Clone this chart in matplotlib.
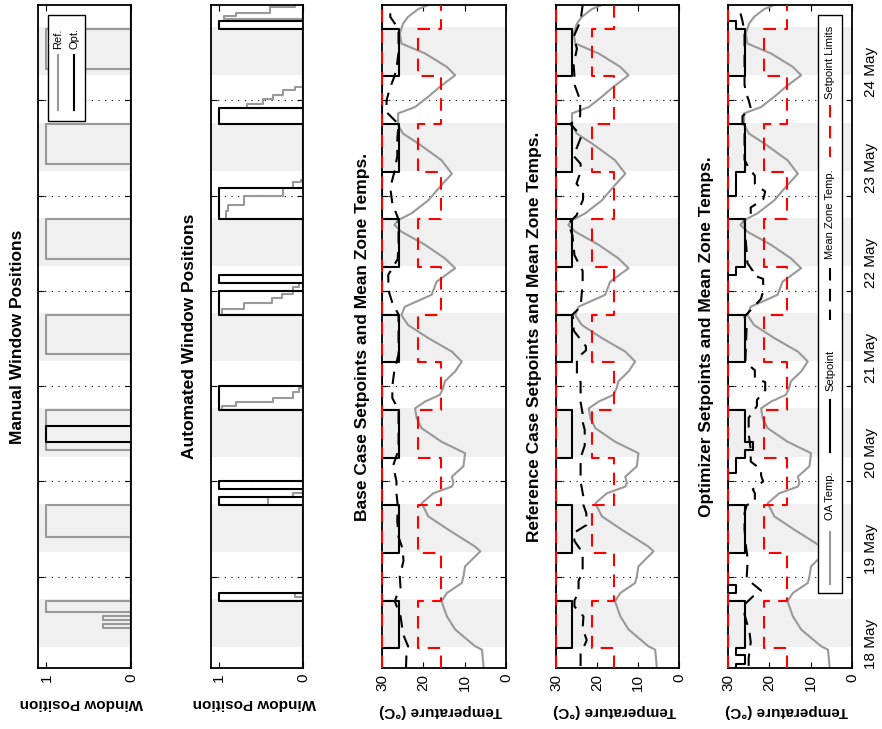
import numpy as np
import matplotlib.pyplot as plt
from matplotlib.patches import Rectangle
from matplotlib.lines import Line2D

plt.rcParams['font.family'] = ['Liberation Sans', 'DejaVu Sans']

W, H = 882, 729

# time axis, in hours from 00:00 on 18 May
t_start, t_end = 1, 168
day_ticks = [24, 48, 72, 96, 120, 144]
day_labels = ['18 May', '19 May', '20 May', '21 May', '22 May', '23 May', '24 May']
day_label_pos = [12, 36, 60, 84, 108, 132, 156]
band_start = [6.25, 30.25, 54.25, 78.25, 102.25, 126.25, 150.25]
band_end = [18.4, 42.4, 66.4, 90.4, 114.4, 138.4, 162.4]

# manual window positions (value holds from each time to the next)
man_ref_t = [1, 11, 12, 13, 14, 15, 18, 34, 42, 56, 66, 80, 90, 104, 114, 128, 138, 152, 162, 168]
man_ref_v = [0, .33, 0, .33, 0, 1, 0, 1, 0, 1, 0, 1, 0, 1, 0, 1, 0, 1, 0, 0]
man_opt_t = [1, 58, 62, 168]
man_opt_v = [0, 1, 0, 0]

# automated window positions
auto_opt_t = [1, 18, 20, 42, 44, 46, 48, 66, 72, 90, 96, 98, 100, 114, 122, 138, 142, 162, 164, 168]
auto_opt_v = [0, 1, 0, 1, 0, 1, 0, 1, 0, 1, 0, 1, 0, 1, 0, 1, 0, 1, 0, 0]
auto_ref_t = [1, 19, 20, 42, 44, 45, 66, 67, 68, 69, 70.5, 71.5, 90, 91.5, 93, 94.3, 95.2, 97, 98,
              114, 116, 117.5, 120, 122, 123.5, 124, 142, 143, 144.4, 145.3, 146.5, 147.4,
              164.5, 165.2, 166, 167.5, 168]
auto_ref_v = [0, .1, 0, .42, .12, 0, .97, .8, .36, .12, .05, 0, .97, .7, .37, .25, .12, .05, 0,
              .92, .9, .7, .24, .12, .02, 0, .67, .48, .36, .24, .1, 0,
              .95, .8, .4, .1, .1]

# outdoor air temperature (C)
oa_t = [1.0, 5.6, 6.5, 10.7, 14.0, 17.8, 19.9, 22.4, 24.0, 26.6, 30.4, 31.6, 35.8, 39.2, 42.5, 45.0,
        46.7, 47.6, 49.2, 51.8, 55.1, 58.0, 61.4, 63.9, 66.4, 68.1, 69.8, 71.5, 73.2, 75.7, 78.2,
        80.7, 84.1, 87.4, 89.9, 92.0, 95.0, 98.3, 101.7, 104.2, 107.6, 110.9, 112.6, 113.8, 115.5,
        118.8, 122.2, 125.5, 128.9, 133.1, 135.6, 137.7, 140.7, 142.3, 144.9, 147.4, 150.3, 152.4,
        155.8, 158.3, 160.8, 163.3, 165.0, 167.0, 168.0]
oa_v = [5.4, 5.8, 7.5, 12.3, 14.3, 15.6, 14.3, 10.7, 10.3, 9.9, 6.2, 7.5, 13.9, 18.8, 20.4, 17.6,
        13.1, 12.7, 13.1, 10.3, 9.9, 15.6, 20.4, 21.6, 22.0, 19.6, 16.0, 15.2, 14.8, 12.3, 10.7,
        13.1, 18.8, 23.7, 25.3, 24.5, 18.0, 16.8, 12.3, 14.8, 19.6, 25.3, 27.0, 26.1, 22.9,
        18.8, 16.0, 13.1, 15.6, 21.2, 24.9, 26.1, 26.1, 22.0, 18.8, 16.0, 12.3, 14.3,
        19.6, 25.3, 25.7, 24.9, 23.7, 21.2, 18.8]

# setpoint schedule and limits
sched_t = [1, 6, 18, 30, 42, 54, 66, 78, 90, 102, 114, 126, 138, 150, 162, 168]
base_sp = [30, 26, 30, 26, 30, 26, 30, 26, 30, 26, 30, 26, 30, 26, 30, 30]
low_lim = [15.8, 21.2, 15.8, 21.2, 15.8, 21.2, 15.8, 21.2, 15.8, 21.2, 15.8, 21.2, 15.8, 21.2, 15.8, 15.8]
up_lim = [30] * 16

opt_sp_t = [1, 2, 4.4, 6, 18, 20, 22, 30, 42, 50, 54, 56, 58, 66, 78, 90, 100, 102, 114,
            120, 126, 138, 150, 162, 164, 168]
opt_sp_v = [28, 26, 28, 26, 30, 28, 30, 26, 30, 28, 26, 24, 26, 30, 26, 30, 28, 26, 30,
            28, 26, 30, 26, 28, 30, 30]

# mean zone temperatures (C)
base_zt_t = [1, 4, 6.5, 9.5, 14, 17.8, 19, 21, 24, 28, 31, 34, 38, 42, 45, 48, 52, 56, 60, 66, 69,
             72, 76, 80, 84, 90, 93, 96, 100, 104, 108, 114, 118, 122, 126, 130, 134, 138, 141,
             144, 147, 150, 152, 156, 162, 165, 168]
base_zt_v = [24.2, 24.1, 23.7, 24.9, 25.5, 26.9, 26.5, 25.5, 25.7, 24.8, 25.0, 26.0, 26.3, 26.2,
             26.5, 26.5, 27.3, 26.0, 26.0, 26.0, 27.5, 27.5, 27.0, 26.0, 26.0, 26.0, 27.5, 28.4,
             28.5, 26.2, 26.0, 26.0, 27.5, 28.0, 27.0, 26.3, 26.3, 26.0, 28.9, 28.9, 28.1, 27.0,
             26.5, 26.0, 26.0, 28.0, 28.0]
ref_zt_t = [1.5, 4.5, 8, 11, 14, 16.5, 18, 20, 23, 25, 30, 33, 35, 37, 40, 42, 44, 48, 54, 57, 61,
            63, 65, 68, 73, 75, 79, 81, 82, 86, 88, 90, 92, 98, 101, 105, 110, 113, 115, 119, 121,
            123, 126, 128, 130, 135, 138, 140, 144, 148, 150, 153, 157, 160, 164, 168]
ref_zt_v = [24.0, 24.0, 22.5, 23.5, 23.3, 25.5, 25.5, 24.5, 24.5, 23.5, 23.5, 25.5, 25.7, 22.6,
            22.6, 23.3, 23.3, 24.0, 24.0, 23.0, 23.0, 23.5, 23.5, 24.0, 24.0, 24.9, 24.9, 22.7,
            22.7, 25.7, 25.7, 26.0, 24.0, 23.5, 23.5, 25.5, 26.0, 27.0, 25.0, 23.4, 23.4, 25.0,
            24.0, 24.0, 25.7, 23.8, 26.5, 24.1, 24.1, 25.5, 25.5, 25.7, 24.9, 25.7, 24.0, 23.5]
opt_zt_t = [1.5, 3.5, 7.5, 10, 14.5, 17, 19, 20.5, 23.5, 27, 29, 32, 36, 40, 42, 43, 45, 46, 48,
            49.5, 51, 53, 56, 60, 64, 67, 68.5, 71, 73, 74, 76, 78, 87, 89.5, 94, 96, 99, 100, 101,
            103, 106, 110, 114, 115, 117, 119, 121, 123, 125, 127, 129, 137, 138.5, 140, 142, 144,
            146, 148, 161, 164, 166, 168]
opt_zt_v = [25.0, 25.0, 24.5, 24.8, 26.0, 26.0, 24.0, 22.0, 25.5, 25.3, 25.3, 25.7, 26.0, 26.0,
            25.5, 23.5, 23.5, 24.0, 21.5, 22.0, 22.0, 24.5, 24.5, 25.0, 25.0, 23.0, 23.0, 21.0,
            21.0, 23.5, 23.5, 25.8, 25.5, 26.0, 22.0, 21.5, 21.5, 24.0, 24.0, 25.3, 25.5, 25.8,
            26.0, 24.5, 24.5, 21.5, 21.0, 23.5, 23.5, 25.0, 26.0, 26.0, 26.5, 26.5, 24.5, 25.0,
            25.7, 26.0, 26.0, 26.5, 27.0, 27.0]

titles = ['Manual Window Positions', 'Automated Window Positions',
          'Base Case Setpoints and Mean Zone Temps.',
          'Reference Case Setpoints and Mean Zone Temps.',
          'Optimizer Setpoints and Mean Zone Temps.']

GRAY = '#999999'
BAND = '#f0f0f0'
DASH = (0, (6, 4))

fig = plt.figure(figsize=(W / 100, H / 100), dpi=100)

panel_px = [(38, 131), (211, 303), (382, 506), (556, 679), (728, 852)]
title_x = [17.5, 190, 362, 535, 707]
top_px, bot_px = 5, 668


def fx(x):
    return x / W


def fy(y):
    return 1 - y / H


axes = []
for i, (x0, x1) in enumerate(panel_px):
    ax = fig.add_axes([fx(x0), fy(bot_px), (x1 - x0) / W, (bot_px - top_px) / H])
    ax.set_ylim(t_start, t_end)
    for b0, b1 in zip(band_start, band_end):
        ax.axhspan(b0, b1, color=BAND, lw=0, zorder=0)
    ax.set_yticks(day_ticks)
    ax.set_yticklabels([])
    ax.tick_params(axis='y', which='major', direction='in', left=True, right=True, length=4, width=0.8)
    ax.grid(axis='y', which='major', color='k', linestyle=(0, (1, 5)), linewidth=0.8)
    ax.set_axisbelow(True)
    if i < 2:
        ax.set_xlim(1.1, 0)
        ax.set_xticks([0, 1])
    else:
        ax.set_xlim(30, 0)
        ax.set_xticks([0, 10, 20, 30])
    ax.tick_params(axis='x', direction='in', top=True, bottom=True, length=4, width=0.8,
                   labelrotation=90, labelsize=11, pad=4)
    for s in ax.spines.values():
        s.set_linewidth(1.3)
    fig.text(fx(title_x[i]), fy((top_px + bot_px) / 2), titles[i], rotation=90,
             ha='center', va='center', fontsize=12.5, fontweight='bold')
    if i < 2:
        fig.text(fx((x0 + x1) / 2 - 3), fy(703), 'Window Position', rotation=180,
                 ha='center', va='center', fontsize=11, fontweight='bold')
    else:
        fig.text(fx((x0 + x1) / 2 - 3), fy(711), 'Temperature (\u00b0C)', rotation=180,
                 ha='center', va='center', fontsize=11, fontweight='bold')
    axes.append(ax)

# window panels: time runs up the y axis, so 'steps-pre' holds each value until the next time
ax = axes[0]
ax.plot(man_ref_v, man_ref_t, drawstyle='steps-pre', color=GRAY, lw=1.5)
ax.plot(man_opt_v, man_opt_t, drawstyle='steps-pre', color='k', lw=1.5)
ax = axes[1]
ax.plot(auto_ref_v, auto_ref_t, drawstyle='steps-pre', color=GRAY, lw=1.5)
ax.plot(auto_opt_v, auto_opt_t, drawstyle='steps-pre', color='k', lw=1.5)

# temperature panels
for ax, sp_t, sp_v, zt_t, zt_v in [(axes[2], sched_t, base_sp, base_zt_t, base_zt_v),
                                   (axes[3], sched_t, base_sp, ref_zt_t, ref_zt_v),
                                   (axes[4], opt_sp_t, opt_sp_v, opt_zt_t, opt_zt_v)]:
    ax.plot(oa_v, oa_t, color=GRAY, lw=1.5, zorder=2)
    ax.plot(sp_v, sp_t, drawstyle='steps-pre', color='k', lw=1.5, zorder=3)
    ax.plot(zt_v, zt_t, color='k', lw=1.5, linestyle=DASH, zorder=3)
    ax.plot(low_lim, sched_t, drawstyle='steps-pre', color='r', lw=1.5, linestyle=DASH, zorder=4)
    ax.plot(up_lim, sched_t, drawstyle='steps-pre', color='r', lw=1.5, linestyle=DASH, zorder=4,
            clip_on=False)

# date labels on the right of the last panel
ax = axes[4]
ax.set_yticks(day_label_pos, minor=True)
ax.set_yticklabels(day_labels, minor=True)
ax.tick_params(axis='y', which='minor', length=0, labelleft=False, labelright=True,
               labelrotation=90, labelsize=11, pad=9)


# rotated legends drawn in pixel coordinates
def legend_box(x0, y0, x1, y1):
    fig.patches.append(Rectangle((fx(x0), fy(y1)), (x1 - x0) / W, (y1 - y0) / H,
                                 transform=fig.transFigure, facecolor='white',
                                 edgecolor='k', lw=1.0, zorder=5))


def legend_entry(x, ly0, ly1, ty, label, **style):
    fig.lines.append(Line2D([fx(x), fx(x)], [fy(ly0), fy(ly1)], transform=fig.transFigure,
                            zorder=6, **style))
    fig.text(fx(x), fy(ty), label, rotation=90, ha='center', va='bottom', fontsize=8, zorder=6)


legend_box(48, 15, 85, 121)
legend_entry(58, 55, 110, 49, 'Ref.', color=GRAY, lw=1.5)
legend_entry(74, 55, 110, 49, 'Opt.', color='k', lw=1.5)

legend_box(818, 15, 842, 593)
legend_entry(830, 532, 584, 520, 'OA Temp.', color=GRAY, lw=1.5)
legend_entry(830, 400, 452, 391, 'Setpoint', color='k', lw=1.5)
legend_entry(830, 268, 320, 259, 'Mean Zone Temp.', color='k', lw=1.5, linestyle=DASH)
legend_entry(830, 105, 157, 99, 'Setpoint Limits', color='r', lw=1.5, linestyle=DASH)

fig.savefig('out.png', dpi=100)
